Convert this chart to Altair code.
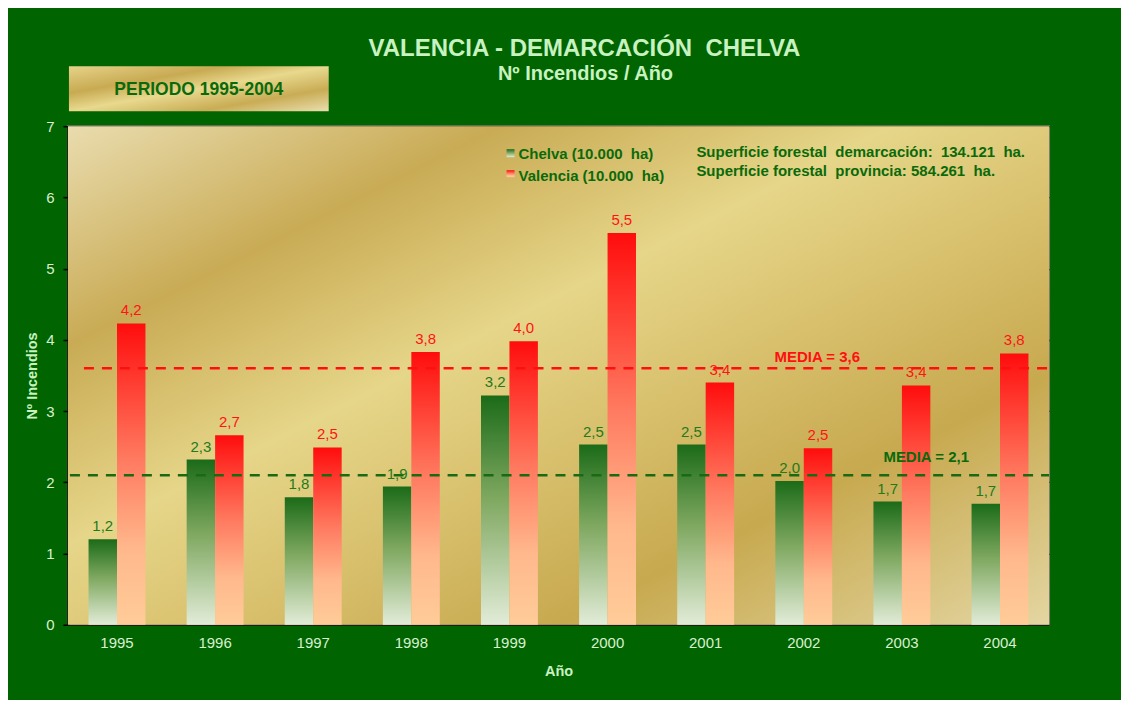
import altair as alt
import pandas as pd

# ---- data ----
years = ["1995", "1996", "1997", "1998", "1999", "2000", "2001", "2002", "2003", "2004"]
chelva = [1.20, 2.32, 1.79, 1.94, 3.22, 2.53, 2.53, 2.02, 1.73, 1.70]
valencia = [4.23, 2.66, 2.49, 3.83, 3.98, 5.50, 3.40, 2.48, 3.36, 3.81]
series = ["Chelva", "Valencia"]
media_chelva = 2.1
media_valencia = 3.6
NB = "\u00a0"
title_text = "VALENCIA - DEMARCACIÓN " + NB + "CHELVA"
subtitle_text = "Nº Incendios / Año"
period_text = "PERIODO 1995-2004"
legend_labels = ["Chelva (10.000 " + NB + "ha)", "Valencia (10.000 " + NB + "ha)"]
info_lines = ["Superficie forestal " + NB + "demarcación: " + NB + "134.121 " + NB + "ha.",
              "Superficie forestal " + NB + "provincia: 584.261 " + NB + "ha."]
y_ticks = [0, 1, 2, 3, 4, 5, 6, 7]

rows = []
for i, y in enumerate(years):
    rows.append({"year": y, "serie": "Chelva", "value": chelva[i]})
    rows.append({"year": y, "serie": "Valencia", "value": valencia[i]})
df = pd.DataFrame(rows)

W, H = 982, 499
FONT = "Liberation Sans"
BG = "#006400"
PALE = "#c8f2c0"
DARK = "#0a6a0a"

def grad(stops, x2=0, y2=1):
    return alt.Gradient(gradient="linear", x1=0, y1=0, x2=x2, y2=y2,
                        stops=[alt.GradientStop(color=c, offset=o) for o, c in stops])

green_grad = grad([(0, "#1b6b19"), (0.45, "#7fa860"), (1, "#e2ecd8")])
red_grad = grad([(0, "#ff0d0d"), (0.45, "#ff7a60"), (0.75, "#ffb88c"), (1, "#ffcc98")])
gold_grad = grad([(0, "#e9dcae"), (0.22, "#c9ab55"), (0.42, "#e6d689"),
                  (0.6, "#d6bd69"), (0.75, "#c7a94f"), (1, "#e4d6a2")], x2=1, y2=1)
box_grad = grad([(0, "#e6d38a"), (0.3, "#c8aa52"), (0.5, "#e8d98e"),
                 (0.75, "#c9ac55"), (1, "#eadfae")], x2=1, y2=1)

one = pd.DataFrame({"k": [0]})

xenc = alt.X("year:N", sort=years, title="Año",
             scale=alt.Scale(paddingInner=0.42, paddingOuter=0.21),
             axis=alt.Axis(labelColor="#d8f0d0", labelFontSize=15, labelFont=FONT,
                           labelAngle=0, ticks=False, domain=False, labelPadding=11,
                           titleColor=PALE, titleFont=FONT, titleFontSize=14.5,
                           titleFontWeight="bold", titlePadding=14))
yenc = alt.Y("value:Q", title="Nº Incendios",
             scale=alt.Scale(domain=[0, 7], nice=False),
             axis=alt.Axis(values=y_ticks, format="d", labelColor="#d8f0d0",
                           labelFontSize=15, labelFont=FONT, labelPadding=9,
                           tickColor="black", tickSize=5, tickWidth=1.5,
                           domainColor="black", domainWidth=2.5,
                           gridColor="#111111", gridWidth=1.3, gridOpacity=0.85,
                           titleColor=PALE, titleFont=FONT, titleFontSize=14.5,
                           titleFontWeight="bold", titlePadding=6))
xoff = alt.XOffset("serie:N", scale=alt.Scale(domain=series, paddingInner=0, paddingOuter=0))

background = alt.Chart(one).mark_rect(fill=gold_grad, strokeWidth=0).encode(
    x=alt.value(0), x2=alt.value(W), y=alt.value(0), y2=alt.value(H))

grid = alt.Chart(df).mark_point(opacity=0).encode(x=xenc, y=yenc)

bars_g = alt.Chart(df).transform_filter(alt.datum.serie == "Chelva").mark_bar(
    fill=green_grad, strokeWidth=0).encode(x=xenc, xOffset=xoff, y=yenc)
bars_r = alt.Chart(df).transform_filter(alt.datum.serie == "Valencia").mark_bar(
    fill=red_grad, strokeWidth=0).encode(x=xenc, xOffset=xoff, y=yenc)

labels = alt.Chart(df).transform_calculate(
    label="replace(format(datum.value, '.1f'), '.', ',')"
).mark_text(font=FONT, fontSize=15, dy=-13, baseline="middle").encode(
    x=xenc, xOffset=xoff, y=yenc, text="label:N",
    color=alt.Color("serie:N", scale=alt.Scale(domain=series, range=["#237a1c", "#ff1414"]),
                    legend=None))

rule_r = alt.Chart(one).mark_rule(color="#ff1010", strokeWidth=2.5, strokeDash=[10, 8]).encode(
    y=alt.datum(media_valencia), x=alt.value(16), x2=alt.value(W))
rule_g = alt.Chart(one).mark_rule(color="#1a6a14", strokeWidth=2.5, strokeDash=[10, 8]).encode(
    y=alt.datum(media_chelva), x=alt.value(2), x2=alt.value(W))
media_r = alt.Chart(one).mark_text(font=FONT, fontSize=15, fontWeight="bold", color="#ff1010",
                                   dy=-11).encode(
    y=alt.datum(media_valencia), x=alt.value(750), text=alt.value("MEDIA = 3,6"))
media_g = alt.Chart(one).mark_text(font=FONT, fontSize=15, fontWeight="bold", color=DARK,
                                   dy=-18).encode(
    y=alt.datum(media_chelva), x=alt.value(859), text=alt.value("MEDIA = 2,1"))

sq_g = alt.Chart(one).mark_rect(fill=green_grad).encode(
    x=alt.value(439), x2=alt.value(447), y=alt.value(23), y2=alt.value(31))
sq_r = alt.Chart(one).mark_rect(fill=red_grad).encode(
    x=alt.value(439), x2=alt.value(447), y=alt.value(44), y2=alt.value(51))

def txt(s, x, y, size=15, color=DARK, align="left"):
    return alt.Chart(one).mark_text(font=FONT, fontSize=size, fontWeight="bold", color=color,
                                    align=align, baseline="alphabetic").encode(
        x=alt.value(x), y=alt.value(y), text=alt.value(s))

leg_t1 = txt(legend_labels[0], 451, 33)
leg_t2 = txt(legend_labels[1], 451, 55)
info_1 = txt(info_lines[0], 629, 31)
info_2 = txt(info_lines[1], 629, 50)

box = alt.Chart(one).mark_rect(fill=box_grad).encode(
    x=alt.value(1), x2=alt.value(261), y=alt.value(-60), y2=alt.value(-15))
box_t = txt(period_text, 131, -31, size=17.5, align="center")

title_t = txt(title_text, 517, -70, size=24, color=PALE, align="center")
subtitle_t = txt(subtitle_text, 518, -46, size=20, color=PALE, align="center")

chart = alt.layer(
    background, grid, bars_g, bars_r, rule_r, rule_g, labels, media_r, media_g,
    sq_g, sq_r, leg_t1, leg_t2, info_1, info_2, box, box_t, title_t, subtitle_t
).properties(
    width=W, height=H,
    autosize=alt.AutoSizeParams(type="none"),
    padding={"left": 60, "top": 118, "right": 72, "bottom": 75},
    background=BG,
).configure_view(stroke="#7a7a6a", strokeWidth=2).configure_axis(grid=True)

chart.save("out.html", embed_options={"renderer": "svg", "actions": False})
